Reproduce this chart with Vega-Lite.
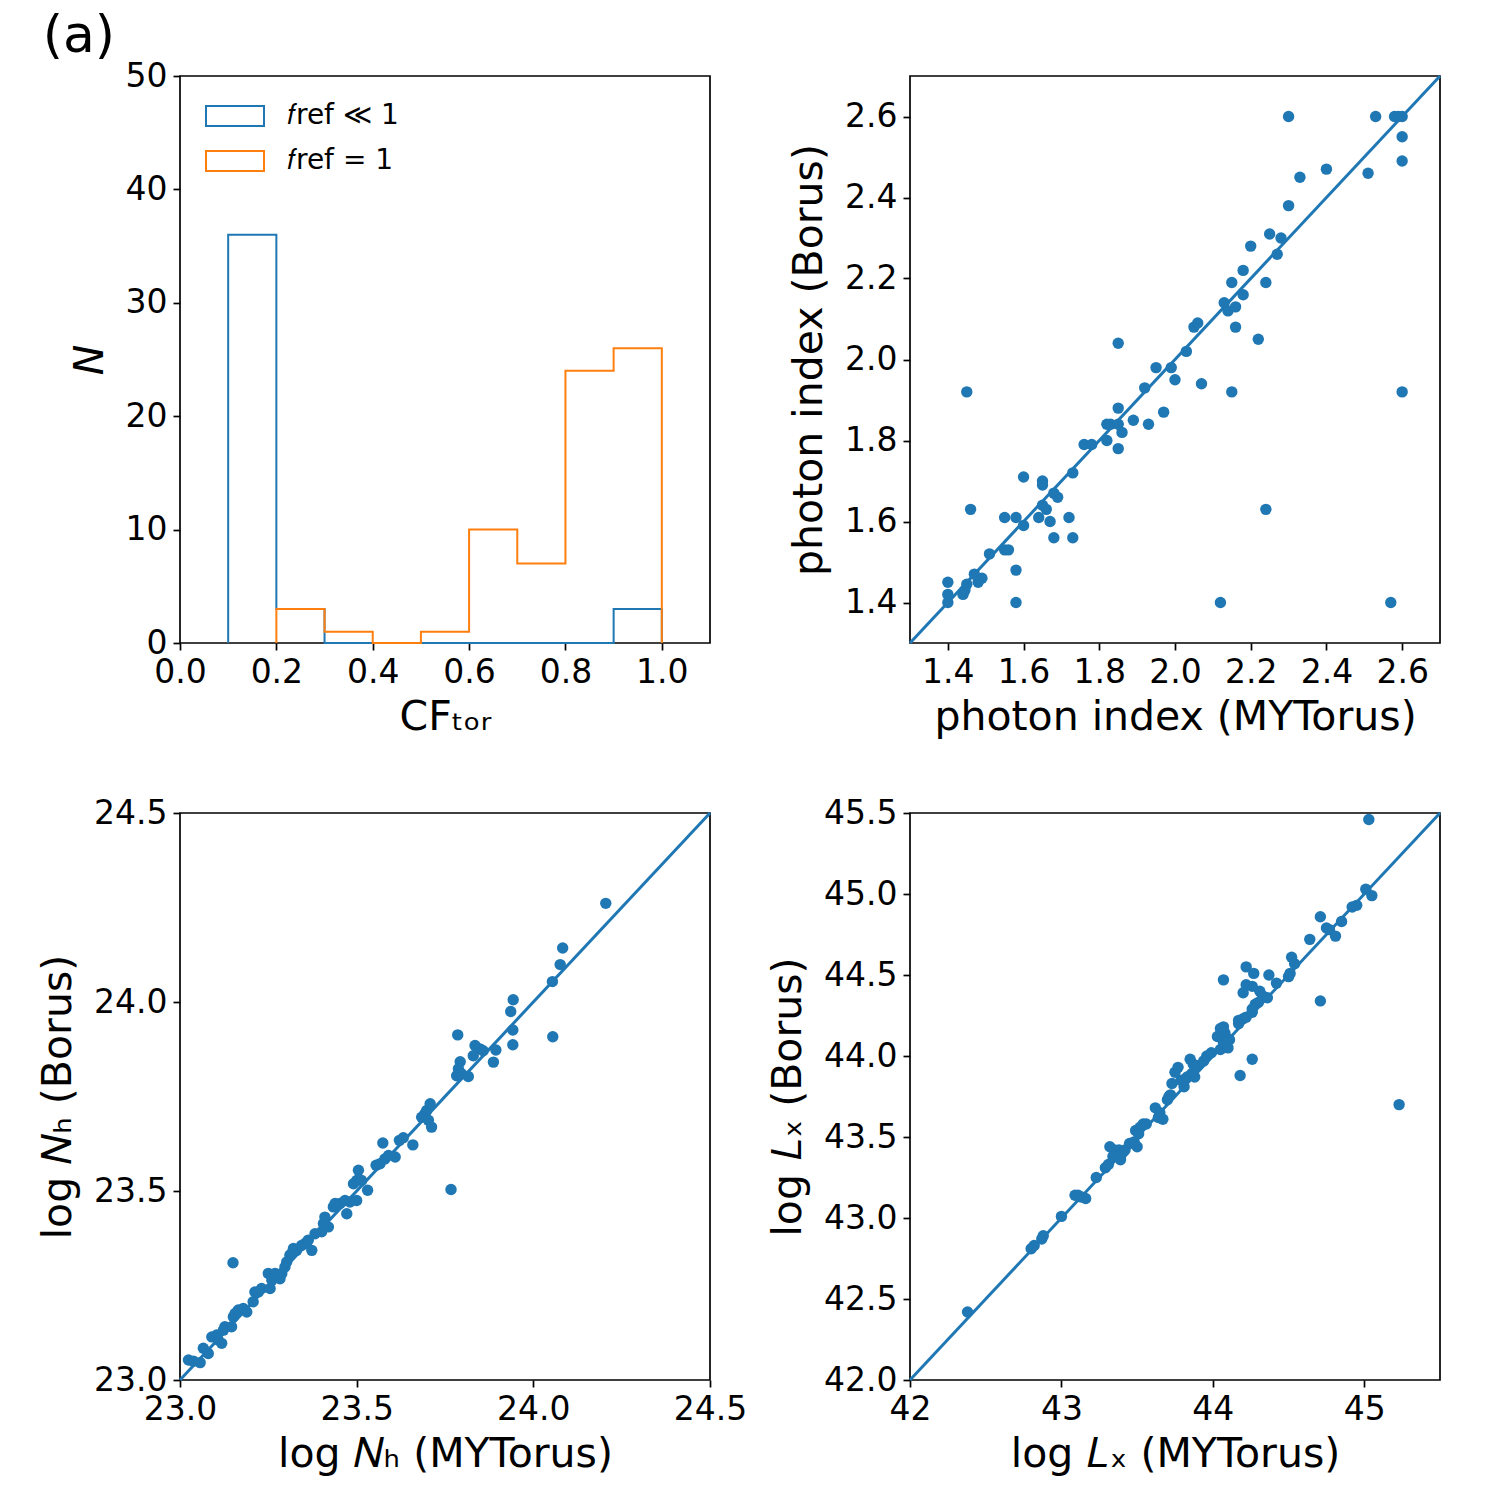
{
  "$schema": "https://vega.github.io/schema/vega-lite/v6.json",
  "padding": {"left": 36, "top": 10, "right": 5, "bottom": 5},
  "background": "white",
  "title": {"text": "(a)", "anchor": "start", "fontSize": 52, "font": "DejaVu Sans", "fontWeight": "normal", "color": "black", "frame": "bounds", "offset": -4, "dx": 6},
  "config": {
    "font": "DejaVu Sans",
    "view": {"stroke": "black", "strokeWidth": 1.7},
    "axis": {
      "labelFont": "DejaVu Sans", "titleFont": "DejaVu Sans",
      "labelFontSize": 33, "titleFontSize": 41, "titleFontWeight": "normal",
      "labelColor": "black", "titleColor": "black", "tickColor": "black",
      "tickSize": 7, "tickWidth": 1.7, "labelPadding": 6, "titlePadding": 8,
      "grid": false, "domain": false, "labelFlush": false, "labelOverlap": false
    },
    "axisY": {"titlePadding": 14},
    "legend": {"labelFont": "DejaVu Sans", "labelFontSize": 28, "labelColor": "black"}
  },
  "datasets": {
    "hist": [
      {"series": "𝑓ref ≪ 1", "i": 0, "edge": 0.1, "n": 0},
      {"series": "𝑓ref ≪ 1", "i": 1, "edge": 0.1, "n": 36},
      {"series": "𝑓ref ≪ 1", "i": 2, "edge": 0.2, "n": 3},
      {"series": "𝑓ref ≪ 1", "i": 3, "edge": 0.3, "n": 0},
      {"series": "𝑓ref ≪ 1", "i": 4, "edge": 0.9, "n": 3},
      {"series": "𝑓ref ≪ 1", "i": 5, "edge": 1.0, "n": 0},
      {"series": "𝑓ref = 1", "i": 0, "edge": 0.2, "n": 0},
      {"series": "𝑓ref = 1", "i": 1, "edge": 0.2, "n": 3},
      {"series": "𝑓ref = 1", "i": 2, "edge": 0.3, "n": 1},
      {"series": "𝑓ref = 1", "i": 3, "edge": 0.4, "n": 0},
      {"series": "𝑓ref = 1", "i": 4, "edge": 0.5, "n": 1},
      {"series": "𝑓ref = 1", "i": 5, "edge": 0.6, "n": 10},
      {"series": "𝑓ref = 1", "i": 6, "edge": 0.7, "n": 7},
      {"series": "𝑓ref = 1", "i": 7, "edge": 0.8, "n": 24},
      {"series": "𝑓ref = 1", "i": 8, "edge": 0.9, "n": 26},
      {"series": "𝑓ref = 1", "i": 9, "edge": 1.0, "n": 0}
    ],
    "diag_g": [{"a": 1.3}, {"a": 2.7}],
    "diag_nh": [{"a": 23.0}, {"a": 24.5}],
    "diag_lx": [{"a": 42.0}, {"a": 45.5}],
    "gamma": [
      {"m": 1.76, "b": 1.79}, {"m": 1.78, "b": 1.79}, {"m": 1.73, "b": 1.72}, {"m": 1.60, "b": 1.71},
      {"m": 1.65, "b": 1.70}, {"m": 1.65, "b": 1.69}, {"m": 1.68, "b": 1.67}, {"m": 1.69, "b": 1.66},
      {"m": 1.46, "b": 1.63}, {"m": 1.65, "b": 1.64}, {"m": 1.66, "b": 1.63}, {"m": 1.55, "b": 1.61},
      {"m": 1.58, "b": 1.61}, {"m": 1.64, "b": 1.61}, {"m": 1.60, "b": 1.59}, {"m": 1.67, "b": 1.60},
      {"m": 1.72, "b": 1.61}, {"m": 1.73, "b": 1.56}, {"m": 1.68, "b": 1.56}, {"m": 1.55, "b": 1.53},
      {"m": 1.56, "b": 1.53}, {"m": 1.51, "b": 1.52}, {"m": 1.58, "b": 1.48}, {"m": 1.47, "b": 1.47},
      {"m": 1.49, "b": 1.46}, {"m": 1.48, "b": 1.45}, {"m": 1.45, "b": 1.445}, {"m": 1.445, "b": 1.43},
      {"m": 1.44, "b": 1.42}, {"m": 1.40, "b": 1.45}, {"m": 1.40, "b": 1.42}, {"m": 1.40, "b": 1.40},
      {"m": 1.58, "b": 1.40},
      {"m": 2.18, "b": 2.22}, {"m": 2.15, "b": 2.19}, {"m": 2.18, "b": 2.16}, {"m": 2.22, "b": 2.05},
      {"m": 2.13, "b": 2.14}, {"m": 2.14, "b": 2.12}, {"m": 2.16, "b": 2.13}, {"m": 2.16, "b": 2.08},
      {"m": 2.05, "b": 2.08}, {"m": 2.06, "b": 2.09}, {"m": 2.03, "b": 2.02}, {"m": 1.85, "b": 2.04},
      {"m": 1.95, "b": 1.98}, {"m": 1.99, "b": 1.98}, {"m": 2.00, "b": 1.95}, {"m": 2.07, "b": 1.94},
      {"m": 2.15, "b": 1.92}, {"m": 1.92, "b": 1.93}, {"m": 1.85, "b": 1.88}, {"m": 1.97, "b": 1.87},
      {"m": 1.89, "b": 1.85}, {"m": 1.93, "b": 1.84}, {"m": 1.82, "b": 1.84}, {"m": 1.83, "b": 1.84},
      {"m": 1.85, "b": 1.84}, {"m": 1.86, "b": 1.82}, {"m": 1.82, "b": 1.80}, {"m": 1.85, "b": 1.78},
      {"m": 2.30, "b": 2.60}, {"m": 2.53, "b": 2.60}, {"m": 2.58, "b": 2.60}, {"m": 2.59, "b": 2.60},
      {"m": 2.60, "b": 2.60}, {"m": 2.60, "b": 2.55}, {"m": 2.60, "b": 2.49}, {"m": 2.51, "b": 2.46},
      {"m": 2.40, "b": 2.47}, {"m": 2.33, "b": 2.45}, {"m": 2.30, "b": 2.38}, {"m": 2.25, "b": 2.31},
      {"m": 2.28, "b": 2.30}, {"m": 2.20, "b": 2.28}, {"m": 2.27, "b": 2.26}, {"m": 2.24, "b": 2.19},
      {"m": 1.45, "b": 1.92}, {"m": 2.24, "b": 1.63}, {"m": 2.12, "b": 1.40}, {"m": 2.57, "b": 1.40},
      {"m": 2.60, "b": 1.92}
    ],
    "nh": [
      {"m": 23.15, "b": 23.31},
      {"m": 23.024, "b": 23.053}, {"m": 23.038, "b": 23.050}, {"m": 23.057, "b": 23.046}, {"m": 23.066, "b": 23.084},
      {"m": 23.080, "b": 23.070}, {"m": 23.090, "b": 23.114}, {"m": 23.108, "b": 23.106}, {"m": 23.118, "b": 23.097},
      {"m": 23.104, "b": 23.119}, {"m": 23.127, "b": 23.141}, {"m": 23.146, "b": 23.141}, {"m": 23.123, "b": 23.132},
      {"m": 23.151, "b": 23.167}, {"m": 23.165, "b": 23.185}, {"m": 23.179, "b": 23.189}, {"m": 23.189, "b": 23.180},
      {"m": 23.156, "b": 23.176}, {"m": 23.207, "b": 23.207}, {"m": 23.212, "b": 23.233}, {"m": 23.231, "b": 23.242},
      {"m": 23.222, "b": 23.233}, {"m": 23.255, "b": 23.242}, {"m": 23.250, "b": 23.282}, {"m": 23.269, "b": 23.282},
      {"m": 23.260, "b": 23.264}, {"m": 23.288, "b": 23.282}, {"m": 23.297, "b": 23.299}, {"m": 23.283, "b": 23.268},
      {"m": 23.302, "b": 23.312}, {"m": 23.311, "b": 23.330}, {"m": 23.321, "b": 23.348}, {"m": 23.316, "b": 23.335},
      {"m": 23.330, "b": 23.343}, {"m": 23.344, "b": 23.356}, {"m": 23.354, "b": 23.361}, {"m": 23.373, "b": 23.343},
      {"m": 23.363, "b": 23.370}, {"m": 23.382, "b": 23.387}, {"m": 23.401, "b": 23.392},
      {"m": 23.406, "b": 23.414}, {"m": 23.410, "b": 23.431}, {"m": 23.420, "b": 23.405}, {"m": 23.434, "b": 23.458},
      {"m": 23.439, "b": 23.467}, {"m": 23.453, "b": 23.467}, {"m": 23.467, "b": 23.475}, {"m": 23.472, "b": 23.440},
      {"m": 23.481, "b": 23.471}, {"m": 23.500, "b": 23.475}, {"m": 23.491, "b": 23.519}, {"m": 23.500, "b": 23.528},
      {"m": 23.505, "b": 23.555}, {"m": 23.514, "b": 23.528}, {"m": 23.531, "b": 23.502}, {"m": 23.555, "b": 23.568},
      {"m": 23.566, "b": 23.572}, {"m": 23.580, "b": 23.585}, {"m": 23.590, "b": 23.594}, {"m": 23.609, "b": 23.590},
      {"m": 23.574, "b": 23.627}, {"m": 23.621, "b": 23.634}, {"m": 23.632, "b": 23.641}, {"m": 23.659, "b": 23.622},
      {"m": 23.684, "b": 23.695}, {"m": 23.693, "b": 23.704}, {"m": 23.703, "b": 23.687}, {"m": 23.712, "b": 23.669},
      {"m": 23.698, "b": 23.713}, {"m": 23.708, "b": 23.731}, {"m": 23.767, "b": 23.504},
      {"m": 24.076, "b": 24.099}, {"m": 24.054, "b": 24.054}, {"m": 23.943, "b": 24.006}, {"m": 23.936, "b": 23.975},
      {"m": 23.942, "b": 23.926}, {"m": 23.942, "b": 23.887}, {"m": 24.055, "b": 23.908}, {"m": 23.786, "b": 23.913},
      {"m": 23.835, "b": 23.885}, {"m": 23.849, "b": 23.876}, {"m": 23.858, "b": 23.871}, {"m": 23.830, "b": 23.858},
      {"m": 23.894, "b": 23.873}, {"m": 23.887, "b": 23.841}, {"m": 23.793, "b": 23.842}, {"m": 23.788, "b": 23.823},
      {"m": 23.783, "b": 23.805}, {"m": 23.797, "b": 23.810}, {"m": 23.816, "b": 23.803},
      {"m": 24.205, "b": 24.261}, {"m": 24.083, "b": 24.143}
    ],
    "lx": [
      {"m": 42.38, "b": 42.42}, {"m": 42.80, "b": 42.81}, {"m": 42.82, "b": 42.83}, {"m": 42.87, "b": 42.87},
      {"m": 42.88, "b": 42.89}, {"m": 43.00, "b": 43.01}, {"m": 43.09, "b": 43.14}, {"m": 43.13, "b": 43.13},
      {"m": 43.16, "b": 43.12}, {"m": 43.11, "b": 43.14}, {"m": 43.23, "b": 43.25}, {"m": 43.29, "b": 43.31},
      {"m": 43.31, "b": 43.33}, {"m": 43.39, "b": 43.38}, {"m": 43.41, "b": 43.41}, {"m": 43.35, "b": 43.42},
      {"m": 43.38, "b": 43.42}, {"m": 43.32, "b": 43.44}, {"m": 43.40, "b": 43.40}, {"m": 43.42, "b": 43.42},
      {"m": 43.34, "b": 43.38}, {"m": 43.39, "b": 43.36}, {"m": 43.45, "b": 43.46}, {"m": 43.50, "b": 43.44},
      {"m": 43.48, "b": 43.47}, {"m": 43.49, "b": 43.54}, {"m": 43.52, "b": 43.56}, {"m": 43.54, "b": 43.58},
      {"m": 43.56, "b": 43.58}, {"m": 43.51, "b": 43.52}, {"m": 43.62, "b": 43.68}, {"m": 43.65, "b": 43.65},
      {"m": 43.67, "b": 43.61}, {"m": 43.64, "b": 43.62}, {"m": 43.70, "b": 43.73}, {"m": 43.72, "b": 43.76},
      {"m": 43.71, "b": 43.75}, {"m": 43.73, "b": 43.83}, {"m": 43.75, "b": 43.90}, {"m": 43.77, "b": 43.93},
      {"m": 43.81, "b": 43.81}, {"m": 43.79, "b": 43.85}, {"m": 43.83, "b": 43.87}, {"m": 43.86, "b": 43.89},
      {"m": 43.88, "b": 43.87}, {"m": 43.85, "b": 43.98}, {"m": 43.87, "b": 43.95}, {"m": 43.90, "b": 43.94},
      {"m": 43.94, "b": 43.97}, {"m": 43.96, "b": 44.00}, {"m": 43.99, "b": 44.02}, {"m": 44.03, "b": 44.12},
      {"m": 44.05, "b": 44.04}, {"m": 44.07, "b": 44.08}, {"m": 44.08, "b": 44.14}, {"m": 44.10, "b": 44.05},
      {"m": 44.05, "b": 44.17}, {"m": 44.07, "b": 44.18}, {"m": 44.11, "b": 44.10}, {"m": 44.17, "b": 44.22},
      {"m": 44.20, "b": 44.23}, {"m": 44.22, "b": 44.24}, {"m": 44.26, "b": 44.27}, {"m": 44.26, "b": 43.98},
      {"m": 44.18, "b": 43.88}, {"m": 44.07, "b": 44.47}, {"m": 44.22, "b": 44.55}, {"m": 44.27, "b": 44.51},
      {"m": 44.37, "b": 44.50}, {"m": 44.42, "b": 44.45}, {"m": 44.52, "b": 44.61}, {"m": 44.54, "b": 44.57},
      {"m": 44.50, "b": 44.49}, {"m": 44.51, "b": 44.51}, {"m": 44.22, "b": 44.44}, {"m": 44.26, "b": 44.43},
      {"m": 44.20, "b": 44.39}, {"m": 44.31, "b": 44.40}, {"m": 44.33, "b": 44.37}, {"m": 44.36, "b": 44.36},
      {"m": 44.28, "b": 44.32}, {"m": 44.30, "b": 44.33}, {"m": 44.26, "b": 44.29}, {"m": 44.17, "b": 44.20},
      {"m": 45.03, "b": 45.46}, {"m": 45.01, "b": 45.03}, {"m": 45.05, "b": 44.99}, {"m": 44.92, "b": 44.92},
      {"m": 44.95, "b": 44.93}, {"m": 44.85, "b": 44.83}, {"m": 44.71, "b": 44.86}, {"m": 44.75, "b": 44.79},
      {"m": 44.77, "b": 44.78}, {"m": 44.81, "b": 44.74}, {"m": 44.64, "b": 44.72}, {"m": 44.71, "b": 44.34},
      {"m": 45.23, "b": 43.70}
    ]
  },
  "columns": 2,
  "spacing": {"row": 170, "column": 200},
  "bounds": "flush",
  "concat": [
    {
      "width": 530, "height": 567,
      "data": {"name": "hist"},
      "mark": {"type": "line", "interpolate": "step-after", "strokeWidth": 2},
      "encoding": {
        "x": {"field": "edge", "type": "quantitative", "scale": {"domain": [0, 1.1], "nice": false, "zero": false},
              "axis": {"values": [0, 0.2, 0.4, 0.6, 0.8, 1.0], "format": ".1f", "title": "CFₜₒᵣ"}},
        "y": {"field": "n", "type": "quantitative", "scale": {"domain": [0, 50], "nice": false},
              "axis": {"values": [0, 10, 20, 30, 40, 50], "title": "N", "titleFontStyle": "italic"}},
        "color": {"field": "series", "type": "nominal",
                  "scale": {"domain": ["𝑓ref ≪ 1", "𝑓ref = 1"], "range": ["#1f77b4", "#ff7f0e"]},
                  "legend": {"title": null, "orient": "none", "legendX": 25, "legendY": 10,
                             "symbolType": "M-1,-0.345L1,-0.345L1,0.345L-1,0.345Z", "symbolSize": 3364,
                             "symbolStrokeWidth": 2, "symbolFillColor": "transparent", "labelOffset": 22, "rowPadding": 0}},
        "order": {"field": "i", "type": "quantitative"}
      }
    },
    {
      "width": 530, "height": 567,
      "layer": [
        {
          "data": {"name": "diag_g"},
          "mark": {"type": "line", "color": "#1f77b4", "strokeWidth": 3},
          "encoding": {
            "x": {"field": "a", "type": "quantitative", "scale": {"domain": [1.3, 2.7], "nice": false, "zero": false},
                  "axis": {"values": [1.4, 1.6, 1.8, 2.0, 2.2, 2.4, 2.6], "format": ".1f", "title": "photon index (MYTorus)"}},
            "y": {"field": "a", "type": "quantitative", "scale": {"domain": [1.3, 2.7], "nice": false, "zero": false},
                  "axis": {"values": [1.4, 1.6, 1.8, 2.0, 2.2, 2.4, 2.6], "format": ".1f", "title": "photon index (Borus)"}}
          }
        },
        {
          "data": {"name": "gamma"},
          "mark": {"type": "circle", "color": "#1f77b4", "size": 130, "opacity": 1},
          "encoding": {
            "x": {"field": "m", "type": "quantitative"},
            "y": {"field": "b", "type": "quantitative"}
          }
        }
      ]
    },
    {
      "width": 530, "height": 567,
      "layer": [
        {
          "data": {"name": "diag_nh"},
          "mark": {"type": "line", "color": "#1f77b4", "strokeWidth": 3},
          "encoding": {
            "x": {"field": "a", "type": "quantitative", "scale": {"domain": [23.0, 24.5], "nice": false, "zero": false},
                  "axis": {"values": [23.0, 23.5, 24.0, 24.5], "format": ".1f", "title": "log 𝑁ₕ (MYTorus)"}},
            "y": {"field": "a", "type": "quantitative", "scale": {"domain": [23.0, 24.5], "nice": false, "zero": false},
                  "axis": {"values": [23.0, 23.5, 24.0, 24.5], "format": ".1f", "title": "log 𝑁ₕ (Borus)"}}
          }
        },
        {
          "data": {"name": "nh"},
          "mark": {"type": "circle", "color": "#1f77b4", "size": 130, "opacity": 1},
          "encoding": {
            "x": {"field": "m", "type": "quantitative"},
            "y": {"field": "b", "type": "quantitative"}
          }
        }
      ]
    },
    {
      "width": 530, "height": 567,
      "layer": [
        {
          "data": {"name": "diag_lx"},
          "mark": {"type": "line", "color": "#1f77b4", "strokeWidth": 3},
          "encoding": {
            "x": {"field": "a", "type": "quantitative", "scale": {"domain": [42.0, 45.5], "nice": false, "zero": false},
                  "axis": {"values": [42, 43, 44, 45], "format": "d", "title": "log 𝐿ₓ (MYTorus)"}},
            "y": {"field": "a", "type": "quantitative", "scale": {"domain": [42.0, 45.5], "nice": false, "zero": false},
                  "axis": {"values": [42.0, 42.5, 43.0, 43.5, 44.0, 44.5, 45.0, 45.5], "format": ".1f", "title": "log 𝐿ₓ (Borus)"}}
          }
        },
        {
          "data": {"name": "lx"},
          "mark": {"type": "circle", "color": "#1f77b4", "size": 130, "opacity": 1},
          "encoding": {
            "x": {"field": "m", "type": "quantitative"},
            "y": {"field": "b", "type": "quantitative"}
          }
        }
      ]
    }
  ]
}
